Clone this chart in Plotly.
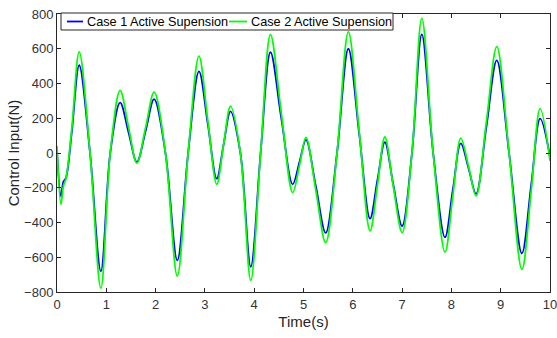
import plotly.graph_objects as go

# Time points (s) of key features
t_case1 = [0.00, 0.08, 0.13, 0.18, 0.30, 0.45, 0.67, 0.89, 1.08, 1.28, 1.45, 1.62, 1.80, 1.97, 2.20,
           2.44, 2.66, 2.88, 3.06, 3.24, 3.38, 3.52, 3.72, 3.93, 4.13, 4.33, 4.55, 4.78, 4.92, 5.05,
           5.25, 5.45, 5.68, 5.91, 6.13, 6.35, 6.50, 6.65, 6.82, 7.00, 7.20, 7.40, 7.63, 7.87, 8.03,
           8.19, 8.35, 8.50, 8.71, 8.92, 9.17, 9.43, 9.62, 9.80, 10.00]
u_case1 = [10, -250, -165, -145, 120, 505, 0, -680, 0, 290, 120, -52, 130, 310, 0,
           -618, 0, 470, 165, -148, 50, 240, 0, -655, 0, 580, 200, -180, -50, 75,
           -190, -460, 0, 600, 110, -378, -155, 62, -180, -420, 0, 683, 0, -485, -210,
           55, -90, -235, 150, 533, 0, -578, -180, 198, -20]

t_case2 = [0.00, 0.08, 0.13, 0.18, 0.30, 0.45, 0.67, 0.89, 1.08, 1.28, 1.45, 1.62, 1.80, 1.97, 2.20,
           2.44, 2.66, 2.88, 3.06, 3.24, 3.38, 3.52, 3.72, 3.93, 4.13, 4.33, 4.55, 4.78, 4.92, 5.05,
           5.25, 5.45, 5.68, 5.91, 6.13, 6.35, 6.50, 6.65, 6.82, 7.00, 7.20, 7.40, 7.63, 7.87, 8.03,
           8.19, 8.35, 8.50, 8.71, 8.92, 9.17, 9.43, 9.62, 9.80, 10.00]
u_case2 = [40, -295, -190, -150, 140, 582, 0, -778, 0, 360, 150, -58, 150, 350, 0,
           -708, 0, 557, 185, -180, 50, 270, 0, -733, 0, 682, 230, -228, -70, 90,
           -215, -516, 0, 697, 125, -448, -185, 92, -190, -458, 0, 775, 0, -570, -245,
           86, -80, -247, 180, 612, 0, -670, -215, 255, -45]

x_ticks = [0, 1, 2, 3, 4, 5, 6, 7, 8, 9, 10]
y_ticks = [-800, -600, -400, -200, 0, 200, 400, 600, 800]
series_names = ["Case 1 Active Supension", "Case 2 Active Supension"]
series_colors = ["#0000FF", "#00FF00"]

W, H = 557, 338
ML, MR, MT, MB = 57, 7, 14, 46
PW, PH = W - ML - MR, H - MT - MB


def px(xp):
    return (xp - ML) / PW


def py(yp):
    return (H - MB - yp) / PH


fig = go.Figure()
for t, u, name, col in [(t_case1, u_case1, series_names[0], series_colors[0]),
                        (t_case2, u_case2, series_names[1], series_colors[1])]:
    fig.add_trace(go.Scatter(x=t, y=u, mode="lines", name=name, showlegend=False,
                             line=dict(color=col, width=1.8, shape="spline", smoothing=1.0)))

axis_common = dict(showgrid=False, zeroline=False, showline=True, linecolor="#262626", linewidth=1,
                   mirror="allticks", ticks="inside", ticklen=4, tickcolor="#262626",
                   ticklabeloverflow="allow", automargin=False,
                   tickfont=dict(family="Liberation Sans, Arial", size=13, color="#333333"))

# Manual legend box (MATLAB style: short line samples)
shapes = [dict(type="rect", xref="paper", yref="paper", x0=px(61), x1=px(393), y0=py(13), y1=py(30),
               line=dict(color="#262626", width=1), fillcolor="white", layer="above")]
annotations = []
leg_items = [(67, 83, 85), (229, 247, 249)]
for (lx0, lx1, tx), name, col in zip(leg_items, series_names, series_colors):
    shapes.append(dict(type="line", xref="paper", yref="paper", x0=px(lx0), x1=px(lx1),
                       y0=py(21.5), y1=py(21.5), line=dict(color=col, width=1.8), layer="above"))
    annotations.append(dict(xref="paper", yref="paper", x=px(tx), y=py(21.5), xanchor="left",
                            yanchor="middle", text=name, showarrow=False,
                            font=dict(family="Liberation Sans, Arial", size=12.7, color="#000000")))

fig.update_layout(
    width=W, height=H,
    margin=dict(l=ML, r=MR, t=MT, b=MB, autoexpand=False),
    paper_bgcolor="white", plot_bgcolor="white",
    font=dict(family="Liberation Sans, Arial", color="#262626"),
    showlegend=False,
    shapes=shapes,
    annotations=annotations,
    xaxis=dict(range=[0, 10], tickvals=x_ticks, title=dict(text="Time(s)", font=dict(size=15), standoff=5),
               **axis_common),
    yaxis=dict(range=[-800, 800], tickvals=y_ticks, title=dict(text="Control Input(N)", font=dict(size=15), standoff=0),
               **axis_common),
)

fig.write_html("out.html")
